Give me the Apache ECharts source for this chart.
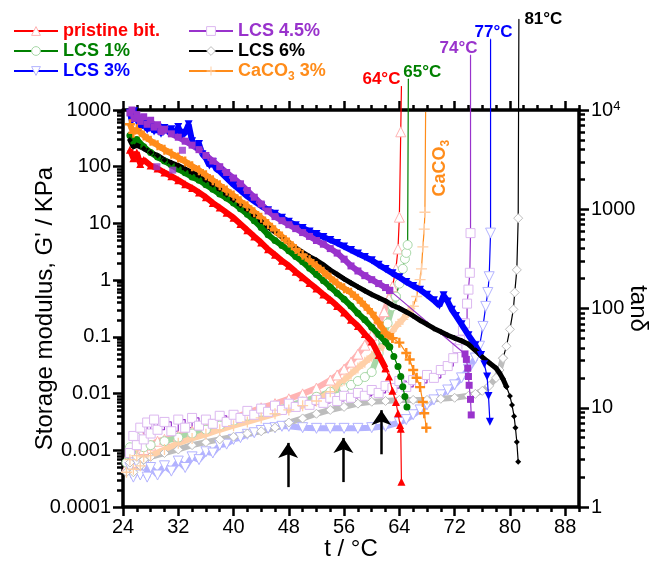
<!DOCTYPE html>
<html><head><meta charset="utf-8">
<script src="https://cdn.jsdelivr.net/npm/echarts@6/dist/echarts.min.js"></script>
<style>html,body{margin:0;padding:0;background:#fff}#c{width:654px;height:570px}</style>
</head><body><div id="c"></div>
<script>
// ---------- tick labels ----------
const xTicks = [24,32,40,48,56,64,72,80,88];
const xMinor = [26,28,30,34,36,38,42,44,46,50,52,54,58,60,62,66,68,70,74,76,78,82,84,86,90];
const gTicks = [0.0001,0.001,0.01,0.1,1,10,100,1000];
const gTickLabels = ['0.0001','0.001','0.01','0.1','1','10','100','1000'];
const tanTicks = [1,10,100,1000,10000];
const tanTickLabels = ['1','10','100','1000','10{sup|4}'];

// ---------- storage modulus G' (KPa) ----------
const pristineT = [25,25.5,26,26.5,27,28,29,30,31,32,33,34,35,36,37,38,39,40,41,42,43,44,45,46,47,48,49,50,51,52,53,54,55,56,57,58,59,60,61,62,62.5,63,63.5,63.8,64.1,64.2,64.3];
const pristineG = [200,141,178,112,132,105,93,79,68,58,49,42,35,29,23,19,15.5,12.6,9.8,7.6,5.9,4.6,3.5,2.8,2.2,1.8,1.4,1.12,0.89,0.71,0.56,0.45,0.35,0.27,0.20,0.155,0.112,0.083,0.048,0.028,0.020,0.0112,0.0071,0.0045,0.0028,0.0024,0.00028];

const lcs1T = [25,25.5,26,27,28,29,30,31,32,33,34,35,36,37,38,39,40,41,42,43,44,45,46,47,48,49,50,51,52,53,54,55,56,57,58,59,60,61,62,62.6,63.2,63.8,64.2,64.5,64.8,65.1];
const lcs1G = [355,282,302,224,178,148,126,107,91,78,66,58,48,40,33,28,22.9,18.2,14.5,11.2,8.5,6.3,5.0,4.1,3.3,2.6,2.1,1.62,1.26,0.98,0.76,0.59,0.46,0.35,0.26,0.20,0.148,0.11,0.081,0.066,0.045,0.030,0.020,0.0132,0.0089,0.0058];

const lcs3T = [25,25.3,25.6,26,26.5,27,27.5,28,28.5,29,29.5,30,30.5,31,31.5,32,32.5,33,33.5,34,34.5,35,35.5,36,36.5,37,37.5,38,39,40,41,42,43,44,45,46,47,48,49,50,51,52,53,54,55,56,57,58,59,60,61,62,63,64,65,66,67,68,69,69.8,70.4,71,71.6,72.2,73,74,75,75.8,76.3,76.7,76.9,77.1];
const lcs3G = [890,630,950,710,500,600,450,525,417,500,380,480,417,457,380,500,355,398,560,282,224,251,166,141,105,120,91,83,63,48,38,30,24.5,20.4,17,14.8,12.6,10.7,9.3,8.3,7.2,6.5,5.75,5.1,4.5,3.9,3.4,2.95,2.57,2.24,1.86,1.58,1.32,1.12,0.93,0.79,0.68,0.55,0.44,0.355,0.54,0.42,0.30,0.234,0.166,0.107,0.071,0.048,0.033,0.020,0.0091,0.0032];

const lcs45T = [25,25.3,25.6,26,26.5,27,27.5,28,28.5,29,29.5,30,31,32,33,34,35,36,37,38,39,40,41,42,43,44,45,46,47,48,49,50,51,52,53,54,55,56,57,58,59,60,61,62,62.6,73.5,73.7,73.9,74.0,74.1,74.3,74.4];
const lcs45G = [890,1000,710,830,630,760,560,660,500,550,417,457,380,331,282,240,200,158,126,100,79,63,50,38,29,22,16.6,13.2,11.2,9.5,8.1,6.9,5.9,5.0,4.3,3.6,3.0,2.34,1.78,1.45,1.2,1.02,0.87,0.74,0.66,0.050,0.040,0.028,0.020,0.014,0.0079,0.0042];
const lcs45OutT = [28.9,31.2,32.6];
const lcs45OutG = [100,87,195];

const lcs6T = [25,25.5,26,27,28,29,30,31,32,33,34,35,36,37,38,39,40,41,42,43,44,45,46,47,48,49,50,51,52,53,54,55,56,57,58,59,60,61,62,63,64,65,66,67,68,69,70,71,72,73,74,75,76,77,78,78.5,79,79.5,80,80.3,80.6,80.8,81.0,81.2];
const lcs6G = [295,224,240,209,178,158,132,117,105,91,79,69,58,48,40,32,26,21,17.4,13.8,11.0,8.7,7.1,5.75,4.6,3.7,3.1,2.6,2.24,1.86,1.51,1.26,1.05,0.89,0.76,0.65,0.56,0.49,0.43,0.36,0.32,0.275,0.234,0.195,0.166,0.141,0.123,0.107,0.095,0.085,0.074,0.058,0.044,0.035,0.028,0.023,0.018,0.0132,0.0091,0.0063,0.004,0.0025,0.0014,0.00063];

const caT = [25,25.5,26,27,28,29,30,31,32,33,34,35,36,37,38,39,40,41,42,43,44,45,46,47,48,49,50,51,52,53,54,55,56,57,58,59,60,61,62,63,64,65,65.5,66,66.5,67,67.4,67.6,67.9];
const caG = [562,398,457,355,288,240,200,170,145,123,102,87,71,58,47,38,31,24.5,20,15.8,12.6,9.8,7.6,5.9,4.6,3.55,2.8,2.24,1.78,1.41,1.10,0.87,0.72,0.60,0.47,0.355,0.263,0.178,0.117,0.095,0.079,0.052,0.040,0.026,0.019,0.013,0.0071,0.0045,0.0025];

// ---------- tan delta ----------
const pristineTanT = [24.5,25,25.5,26,26.5,27,28,29,30,32,34,36,38,40,42,44,46,48,50,52,54,55,56,57,58,59,60,61,61.8,62.5,63,63.5,63.8,64.0,64.2,64.3];
const pristineTan = [2.5,3.5,2.8,4.2,5.6,3.8,4.2,4.6,4.8,5.2,5.8,6.3,7.1,7.9,8.9,10,11,12.3,13.8,15.8,19,21.4,24.5,28.8,34.7,42.7,53.7,70.8,93,126,166,251,398,832,6030,17400];

const lcs1TanT = [24.5,25,25.5,26,26.5,27,28,30,32,34,36,38,40,42,44,46,48,50,52,54,56,57,58,59,60,61,61.6,62.3,63,63.5,64,64.5,64.8,65.0,65.2,65.3];
const lcs1Tan = [2.8,4.0,3.2,5.0,4.2,4.0,4.2,4.6,5.0,5.5,6.0,6.6,7.4,8.3,9.1,9.5,10.5,11.5,12.9,14.5,15.8,17,18.6,20.4,22.9,35.5,49,70.8,105,132,178,251,316,363,437,20500];

const lcs3TanT = [25,25.5,26,26.5,27,27.5,28,29,30,31,32,33,34,35,36,37,38,39,40,41,42,43,44,45,46,47,48,50,52,54,56,58,60,62,64,65,66,67,68,69,70,71,72,73,74,75,75.6,76.1,76.5,76.8,77.0,77.2,77.2];
const lcs3Tan = [2.5,2.0,2.8,2.1,2.6,2.0,2.5,2.1,2.6,2.3,2.9,2.5,3.2,3.0,3.6,3.5,4.2,4.3,4.8,5.0,5.4,5.6,5.9,6.2,6.3,6.5,6.5,6.3,6.2,6.2,6.2,6.2,6.3,6.5,7.1,7.6,8.5,9.5,10.7,12,13.5,15.1,17,20,24.5,31.6,41.7,66,105,145,209,575,51700];

const lcs45TanT = [25,25.5,26,26.5,27,27.5,28,28.5,29,30,31,32,33,34,35,36,37,38,39,40,41,42,43,44,45,46,47,48,49,50,51,52,53,54,55,56,57,58,59,60,61,62,63,64,65,66,67,68,69,70,71,71.8,72.4,72.8,73.2,73.5,73.8,74.0,74.2,74.3,74.3];
const lcs45Tan = [3.5,5.2,4.2,6.3,4.8,7.1,5.5,7.6,6.0,7.2,5.8,7.6,6.3,7.9,6.6,7.6,6.9,8.3,7.2,8.5,7.9,9.3,8.5,9.8,9.1,10.5,9.5,11,10.2,11.5,10.7,12,11.2,12.6,11.7,13.2,12.6,14.1,13.2,15.1,14.1,16.6,15.8,18.6,16.2,19,17.8,21.4,20,24,26.3,31.6,40,47.9,60,70.8,112,155,229,575,35700];

const lcs6TanT = [24.5,25,25.5,26,26.5,27,28,30,32,34,36,38,40,42,44,46,48,50,52,54,56,58,60,62,64,66,68,70,72,74,75,76,77,78,78.5,79,79.5,80,80.5,80.7,81.0,81.2,81.3];
const lcs6Tan = [2.24,2.8,2.24,3.2,2.6,3.0,3.2,3.5,3.8,4.2,4.5,4.8,5.1,5.5,5.8,6.3,7.1,7.8,8.7,9.5,10.2,11,11.5,11.7,12,12,12,12.3,12.6,13.2,13.8,14.8,16.6,20,24,31.6,41.7,61.7,98,145,245,813,82200];

const caTanT = [24.5,25,25.5,26,26.5,27,28,30,32,34,36,38,40,42,44,46,48,50,52,54,55,56,57,58,59,60,61,61.6,62.5,63.5,64.5,65.3,66,66.5,67,67.2,67.4,67.6,67.7,67.8];
const caTan = [2.24,3.0,2.4,3.3,2.6,3.2,3.3,3.8,4.4,4.9,5.4,6.0,6.6,7.2,7.9,8.7,9.5,10.5,11.7,14.5,16.6,19,21.9,25.1,28.8,33.1,38,41.7,52.5,66,77.6,91.2,105,132,195,251,417,631,933,9550];

// arrows (t, from G', to G')
const arrowT = [47.9, 55.9, 61.4];
const arrowFrom = [0.000224, 0.000275, 0.00085];
const arrowTo = [0.00135, 0.00165, 0.0051];

// ---------- styling ----------
const FONT = 'Arial, "Liberation Sans", sans-serif';
const plusThick = 'path://M3.8,0 L6.2,0 L6.2,3.8 L10,3.8 L10,6.2 L6.2,6.2 L6.2,10 L3.8,10 L3.8,6.2 L0,6.2 L0,3.8 L3.8,3.8 Z';
const plusThin = 'path://M4.4,0 L5.6,0 L5.6,4.4 L10,4.4 L10,5.6 L5.6,5.6 L5.6,10 L4.4,10 L4.4,5.6 L0,5.6 L0,4.4 L4.4,4.4 Z';

const SER = [
  {name:'pristine bit.', dark:'#ff0000', light:'#ffb3b3', sym:'triangle', rot:0, gSize:8, tSize:10,
   gT:pristineT, gV:pristineG, gCut:62, tT:pristineTanT, tV:pristineTan, tCut:63,
   lab:{text:'64°C', position:'top', offset:[-20,2]}},
  {name:'LCS 1%', dark:'#008000', light:'#a8d8a8', sym:'circle', rot:0, gSize:7, tSize:9,
   gT:lcs1T, gV:lcs1G, gCut:62.6, tT:lcs1TanT, tV:lcs1Tan, tCut:63.5,
   lab:{text:'65°C', position:'top', offset:[14,2]}},
  {name:'LCS 3%', dark:'#0000ff', light:'#b3b3ff', sym:'triangle', rot:180, gSize:8, tSize:10,
   gT:lcs3T, gV:lcs3G, gCut:75.8, tT:lcs3TanT, tV:lcs3Tan, tCut:75,
   lab:{text:'77°C', position:'top', offset:[3,2]}},
  {name:'LCS 4.5%', dark:'#9933cc', light:'#dcb8f0', sym:'rect', rot:0, gSize:7, tSize:9, step:true,
   gT:lcs45T, gV:lcs45G, gCut:62.6, tT:lcs45TanT, tV:lcs45Tan, tCut:73.5,
   lab:{text:'74°C', position:'top', offset:[-12,2]}},
  {name:'LCS 6%', dark:'#000000', light:'#bdbdbd', sym:'diamond', rot:0, gSize:6, tSize:9,
   gT:lcs6T, gV:lcs6G, gCut:79.5, tT:lcs6TanT, tV:lcs6Tan, tCut:79,
   lab:{text:'81°C', position:'right', offset:[0,0]}},
  {name:'CaCO3 3%', dark:'#ff8c1a', light:'#ffd0a8', sym:plusThick, tsym:plusThin, rot:0, gSize:10, tSize:11,
   gT:caT, gV:caG, gCut:63, tT:caTanT, tV:caTan, tCut:66, lab:null}
];

function pts(T, V, a, b){ const o=[]; for(let i=a;i<b;i++) o.push([T[i], V[i]]); return o; }

const series = [];
SER.forEach(s => {
  const isPlus = !!s.tsym;
  const tk = s.tT.indexOf(s.tCut);
  const tStyle = isPlus ? {color:s.light, borderWidth:0} : {color:'#ffffff', borderColor:s.light, borderWidth:1};
  series.push({type:'line', name:s.name, yAxisIndex:1, z:2, silent:true,
    data:pts(s.tT, s.tV, 0, tk+1), symbol:s.tsym||s.sym, symbolRotate:s.rot, symbolSize:s.tSize,
    step: s.step ? 'end' : false,
    itemStyle:tStyle,
    lineStyle: s.step ? {color:s.dark, width:1.2} : {color:s.light, width:6}});
  const tail = pts(s.tT, s.tV, tk, s.tT.length);
  const last = tail[tail.length-1];
  const lastItem = {value:last, symbolSize:1, itemStyle:{color:s.dark, borderWidth:0}};
  if (s.lab) {
    lastItem.label = {show:true, formatter:s.lab.text, position:s.lab.position, distance: s.lab.position==='right'?5:0,
      offset:s.lab.offset, color:s.dark, fontSize:17, fontWeight:'bold', fontFamily:FONT};
  }
  tail[tail.length-1] = lastItem;
  series.push({type:'line', name:s.name+' tail', yAxisIndex:1, z:3, clip:false, silent:true,
    data:tail, symbol:s.tsym||s.sym, symbolRotate:s.rot, symbolSize:s.tSize,
    step: s.step ? 'end' : false,
    itemStyle:tStyle, lineStyle:{color:s.dark, width:1.2}});
  const gk = s.gT.indexOf(s.gCut);
  series.push({type:'line', name:s.name+' G', yAxisIndex:0, z:6, silent:true,
    data:pts(s.gT, s.gV, 0, gk+1), symbol:s.sym, symbolRotate:s.rot, symbolSize:s.gSize,
    itemStyle:{color:s.dark}, lineStyle:{color:s.dark, width: s.name==='LCS 6%'?5:6}});
  series.push({type:'line', name:s.name+' G tail', yAxisIndex:0, z:6, silent:true,
    data:pts(s.gT, s.gV, gk, s.gT.length), symbol:s.sym, symbolRotate:s.rot, symbolSize:s.gSize,
    itemStyle:{color:s.dark}, lineStyle:{color:s.dark, width:1.2}});
});
series.push({type:'scatter', name:'LCS 4.5% outliers', yAxisIndex:0, z:6, silent:true,
  data:pts(lcs45OutT, lcs45OutG, 0, lcs45OutT.length), symbol:'rect', symbolSize:7, itemStyle:{color:'#9933cc'}});
series.push({type:'line', name:'arrows', yAxisIndex:0, data:[], z:8, silent:true,
  markLine:{silent:true, animation:false, symbol:['none','arrow'], symbolSize:15,
    itemStyle:{color:'#000'},
    lineStyle:{color:'#000', width:2.5, type:'solid'}, label:{show:false},
    data: arrowT.map((t,i)=>[{coord:[t, arrowFrom[i]]},{coord:[t, arrowTo[i]]}])}});

function legendItem(s){
  const isPlus = !!s.tsym;
  return {name:s.name,
    itemStyle: isPlus ? {color:s.light, borderWidth:0} : {color:'#ffffff', borderColor:s.light, borderWidth:1},
    lineStyle:{color:s.dark, width:2}, textStyle:{color:s.dark}};
}
const legendText = {fontSize:18, fontWeight:'bold', fontFamily:FONT,
  rich:{sub:{fontSize:12, fontWeight:'bold', color:'#ff8c1a', fontFamily:FONT, padding:[12,0,0,0]}}};
const legendFmt = n => n==='CaCO3 3%' ? 'CaCO{sub|3} 3%' : n;

const majorTick = (vals, len) => ({show:true, customValues:vals, length:len, inside:false, lineStyle:{color:'#000', width:2.5}});
const axisLineS = {show:true, lineStyle:{color:'#000', width:3.5}};
const gMinor = []; for (let e=-4; e<3; e++) for (let m=2; m<10; m++) gMinor.push(+(m*Math.pow(10,e)).toPrecision(3));
const tanMinor = []; for (let e=0; e<4; e++) for (let m=2; m<10; m++) tanMinor.push(+(m*Math.pow(10,e)).toPrecision(3));
const findLab = (ticks, labels, v) => { const i = ticks.findIndex(t => Math.abs(Math.log10(t)-Math.log10(v))<1e-6); return i<0?'':labels[i]; };

const option = {
  animation:false,
  backgroundColor:'#fff',
  grid:{left:123, right:75, top:110, bottom:63, containLabel:false, outerBoundsMode:'none'},
  legend:[
    {left:8, top:17, orient:'vertical', itemWidth:44, itemHeight:11, itemGap:2, selectedMode:false,
     data:[legendItem(SER[0]), legendItem(SER[1]), legendItem(SER[2])], textStyle:legendText, formatter:legendFmt},
    {left:183, top:17, orient:'vertical', itemWidth:44, itemHeight:11, itemGap:2, selectedMode:false,
     data:[legendItem(SER[3]), legendItem(SER[4]), legendItem(SER[5])], textStyle:legendText, formatter:legendFmt}
  ],
  xAxis:[
    {type:'value', min:24, max:90, position:'bottom', axisLine:axisLineS, axisTick:majorTick(xTicks, 9),
     axisLabel:{customValues:xTicks, fontSize:20, color:'#000', fontFamily:FONT, margin:10},
     splitLine:{show:false}, name:'t / °C', nameLocation:'middle', nameGap:30, nameMoveOverlap:false,
     nameTextStyle:{fontSize:24, color:'#000', fontFamily:FONT, verticalAlign:'top'}},
    {type:'value', min:24, max:90, position:'top', axisLine:axisLineS, axisTick:majorTick(xTicks, 9),
     axisLabel:{show:false}, splitLine:{show:false}},
    {type:'value', min:24, max:90, position:'bottom', axisLine:{show:false}, axisTick:majorTick(xMinor, 5),
     axisLabel:{show:false}, splitLine:{show:false}},
    {type:'value', min:24, max:90, position:'top', axisLine:{show:false}, axisTick:majorTick(xMinor, 5),
     axisLabel:{show:false}, splitLine:{show:false}}
  ],
  yAxis:[
    {type:'log', logBase:10, min:0.0001, max:1000, position:'left', axisLine:axisLineS, axisTick:majorTick(gTicks, 10),
     axisLabel:{customValues:gTicks, fontSize:20, color:'#000', fontFamily:FONT, margin:12,
       formatter:v => findLab(gTicks, gTickLabels, v)},
     splitLine:{show:false}, name:"Storage modulus, G' / KPa", nameLocation:'middle', nameGap:66, nameMoveOverlap:false,
     nameTextStyle:{fontSize:24, color:'#000', fontFamily:FONT}},
    {type:'log', logBase:10, min:1, max:10000, position:'right', axisLine:axisLineS, axisTick:majorTick(tanTicks, 10),
     axisLabel:{customValues:tanTicks, fontSize:20, color:'#000', fontFamily:FONT, margin:12,
       formatter:v => findLab(tanTicks, tanTickLabels, v), rich:{sup:{fontSize:13, fontFamily:FONT, color:'#000', padding:[0,0,8,0]}}},
     splitLine:{show:false}, name:'tanδ', nameLocation:'middle', nameGap:47, nameRotate:-90, nameMoveOverlap:false,
     nameTextStyle:{fontSize:24, color:'#000', fontFamily:FONT}},
    {type:'log', logBase:10, min:0.0001, max:1000, position:'left', axisLine:{show:false}, axisTick:majorTick(gMinor, 6),
     axisLabel:{show:false}, splitLine:{show:false}},
    {type:'log', logBase:10, min:1, max:10000, position:'right', axisLine:{show:false}, axisTick:majorTick(tanMinor, 6),
     axisLabel:{show:false}, splitLine:{show:false}}
  ],
  series: series
};

const chart = echarts.init(document.getElementById('c'), null, {renderer:'canvas'});
chart.setOption(option);
const p = chart.convertToPixel({xAxisIndex:0, yAxisIndex:1}, [69.9, 2600]);
chart.setOption({graphic:[{type:'text', x:p[0], y:p[1], rotation:Math.PI/2, z:20, silent:true,
  style:{text:'{a|CaCO}{b|3}', align:'center', verticalAlign:'middle',
    rich:{a:{fontSize:18, fontWeight:'bold', fill:'#ff8c1a', fontFamily:FONT},
          b:{fontSize:12, fontWeight:'bold', fill:'#ff8c1a', fontFamily:FONT, padding:[12,0,0,0]}}}}]});
</script>
</body></html>
